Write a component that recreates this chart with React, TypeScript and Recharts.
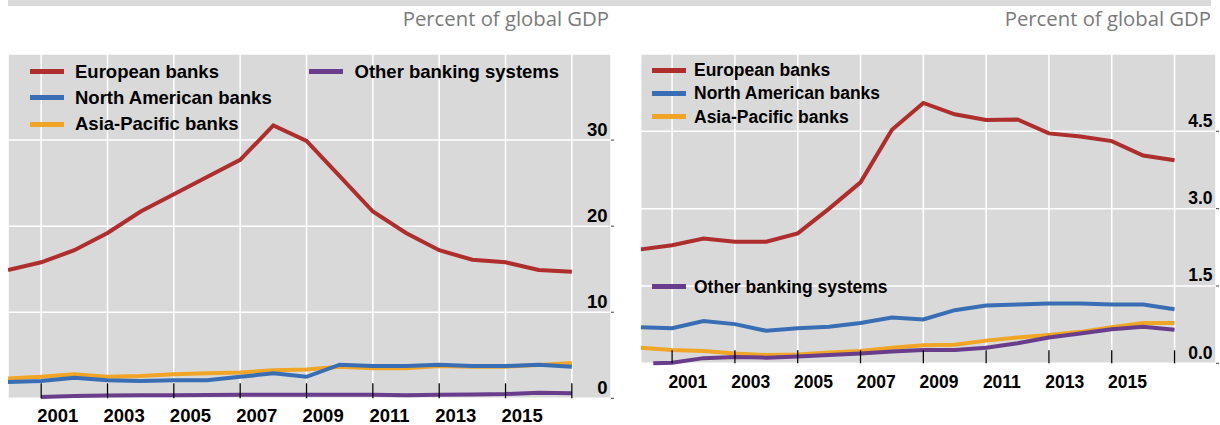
import React from "react";
import { LineChart, Line, XAxis, YAxis, CartesianGrid } from "recharts";

// ---------- data ----------
const years = [2000, 2001, 2002, 2003, 2004, 2005, 2006, 2007, 2008, 2009, 2010, 2011, 2012, 2013, 2014, 2015, 2016, 2017];
const xTicks = [2001, 2003, 2005, 2007, 2009, 2011, 2013, 2015, 2017];
const xTickLabels = ["2001", "2003", "2005", "2007", "2009", "2011", "2013", "2015"];

const seriesNames = ["European banks", "North American banks", "Asia-Pacific banks", "Other banking systems"];

// Left panel (percent of global GDP)
const leftEuropean = [14.9, 15.8, 17.2, 19.2, 21.7, 23.7, 25.7, 27.7, 31.7, 29.9, 25.8, 21.7, 19.2, 17.2, 16.1, 15.8, 14.9, 14.7];
const leftNorthAmerican = [1.9, 2.0, 2.4, 2.1, 2.0, 2.1, 2.1, 2.5, 2.9, 2.5, 3.9, 3.75, 3.75, 3.9, 3.75, 3.75, 3.9, 3.67];
const leftAsiaPacific = [2.3, 2.5, 2.8, 2.5, 2.6, 2.8, 2.9, 3.0, 3.25, 3.35, 3.67, 3.5, 3.5, 3.75, 3.67, 3.67, 3.86, 4.1];
const leftOther = [null, 0.15, 0.27, 0.33, 0.35, 0.35, 0.38, 0.42, 0.42, 0.42, 0.42, 0.42, 0.36, 0.42, 0.45, 0.5, 0.65, 0.58];
const leftYTicks = [0, 10, 20, 30];
const leftYTickLabels = ["0", "10", "20", "30"];

// Right panel (percent of global GDP)
const rightEuropean = [2.21, 2.29, 2.42, 2.36, 2.36, 2.52, 3.0, 3.51, 4.53, 5.05, 4.83, 4.72, 4.73, 4.46, 4.4, 4.31, 4.03, 3.94];
const rightNorthAmerican = [0.7, 0.68, 0.82, 0.76, 0.63, 0.68, 0.71, 0.78, 0.89, 0.85, 1.03, 1.12, 1.14, 1.16, 1.16, 1.14, 1.14, 1.05];
const rightAsiaPacific = [0.3, 0.26, 0.24, 0.19, 0.16, 0.17, 0.21, 0.24, 0.3, 0.35, 0.36, 0.44, 0.5, 0.55, 0.61, 0.7, 0.78, 0.78];
const rightOther = [null, 0.01, 0.1, 0.12, 0.11, 0.13, 0.16, 0.19, 0.23, 0.26, 0.26, 0.3, 0.39, 0.5, 0.58, 0.66, 0.71, 0.65];
const rightOtherStart = { year: 2000.4, value: 0.0 };
const rightYTicks = [0, 1.5, 3, 4.5];
const rightYTickLabels = ["0.0", "1.5", "3.0", "4.5"];

const unitLabel = "Percent of global GDP";

// ---------- styles ----------
const COLORS = ["#ae2d2d", "#3a6eb4", "#f0a526", "#693c8c"];
const DRAW_ORDER = [0, 2, 1, 3];
const FONT = "'Liberation Sans', Arial, sans-serif";
const GRID_BG = "#d9d9d9";

type Pt = { year: number; value: number };

function toPoints(vals: (number | null)[], start?: Pt): Pt[] {
  const pts: Pt[] = [];
  if (start) pts.push(start);
  vals.forEach((v, i) => {
    if (v !== null && v !== undefined) pts.push({ year: years[i], value: v });
  });
  return pts;
}

function makeXTick(halfYearPx: number, tickLen: number, labelDy: number, fontSize: number) {
  return (props: any) => {
    const { x, y, index } = props;
    const label = xTickLabels[index];
    return (
      <g>
        <line x1={x} x2={x} y1={y} y2={y - tickLen} stroke="#000" strokeWidth={1.3} />
        {label ? (
          <text x={x + halfYearPx} y={y + labelDy} textAnchor="middle" fontFamily={FONT} fontWeight="bold" fontSize={fontSize} fill="#000">
            {label}
          </text>
        ) : null}
      </g>
    );
  };
}

function makeYTick(labels: string[], fontSize: number) {
  return (props: any) => {
    const { x, y, index } = props;
    return (
      <g>
        <line x1={x} x2={x + 3} y1={y} y2={y} stroke="#444" strokeWidth={1} />
        <text x={x - 3.5} y={y - 4.5} textAnchor="end" fontFamily={FONT} fontWeight="bold" fontSize={fontSize} fill="#000">
          {labels[index]}
        </text>
      </g>
    );
  };
}

type PanelProps = {
  left: number;
  width: number;
  margin: { top: number; right: number; bottom: number; left: number };
  xAxisHeight: number;
  xDomain: [number, number];
  yDomain: [number, number];
  yTicks: number[];
  yLabels: string[];
  series: Pt[][];
  halfYearPx: number;
  tickLen: number;
  labelDy: number;
  fontSize: number;
};

function Panel(p: PanelProps) {
  return (
    <div style={{ position: "absolute", left: p.left, top: 0 }}>
      <LineChart width={p.width} height={425} margin={p.margin}>
        <CartesianGrid fill={GRID_BG} stroke="#ffffff" strokeWidth={1.5} horizontal={true} vertical={true} />
        <XAxis
          dataKey="year"
          type="number"
          domain={p.xDomain}
          allowDataOverflow
          ticks={xTicks}
          interval={0}
          height={p.xAxisHeight}
          axisLine={false}
          tickLine={false}
          tickSize={0}
          tickMargin={0}
          tick={makeXTick(p.halfYearPx, p.tickLen, p.labelDy, p.fontSize)}
        />
        <YAxis
          orientation="right"
          type="number"
          domain={p.yDomain}
          ticks={p.yTicks}
          interval={0}
          width={4}
          axisLine={false}
          tickLine={false}
          tickSize={0}
          tickMargin={0}
          tick={makeYTick(p.yLabels, p.fontSize)}
        />
        {DRAW_ORDER.map((si) => (
          <Line
            key={si}
            data={p.series[si]}
            dataKey="value"
            name={seriesNames[si]}
            type="linear"
            stroke={COLORS[si]}
            strokeWidth={4}
            dot={false}
            activeDot={false}
            isAnimationActive={false}
          />
        ))}
      </LineChart>
    </div>
  );
}

function LegendItem({ x, y, idx, fontSize, textX }: { x: number; y: number; idx: number; fontSize: number; textX: number }) {
  return (
    <>
      <div style={{ position: "absolute", left: x, top: y - 2.5, width: 34, height: 5, background: COLORS[idx] }} />
      <div
        style={{
          position: "absolute",
          left: textX,
          top: y - 12,
          height: 24,
          lineHeight: "24px",
          fontFamily: FONT,
          fontWeight: "bold",
          fontSize,
          color: "#000",
          whiteSpace: "nowrap",
        }}
      >
        {seriesNames[idx]}
      </div>
    </>
  );
}

export default function App() {
  const leftSeries = [
    toPoints(leftEuropean),
    toPoints(leftNorthAmerican),
    toPoints(leftAsiaPacific),
    toPoints(leftOther),
  ];
  const rightSeries = [
    toPoints(rightEuropean),
    toPoints(rightNorthAmerican),
    toPoints(rightAsiaPacific),
    toPoints(rightOther, rightOtherStart),
  ];

  return (
    <div style={{ position: "absolute", left: 0, top: 0, width: 1220, height: 425, background: "#fff", overflow: "hidden" }}>
      <svg width={1220} height={425} style={{ position: "absolute", left: 0, top: 0 }}>
        <rect x={8} y={0} width={1203} height={6} fill="#d9d9d9" />
        <text x={609} y={26} textAnchor="end" fontFamily="'Open Sans', sans-serif" fontSize={20.3} fill="#7a7a7a">
          {unitLabel}
        </text>
        <text x={1211} y={26} textAnchor="end" fontFamily="'Open Sans', sans-serif" fontSize={20.3} fill="#7a7a7a">
          {unitLabel}
        </text>
      </svg>

      <Panel
        left={0}
        width={620}
        margin={{ top: 54, right: 5, bottom: 0, left: 8 }}
        xAxisHeight={26.7}
        xDomain={[2000, 2018.18]}
        yDomain={[0, 40]}
        yTicks={leftYTicks}
        yLabels={leftYTickLabels}
        series={leftSeries}
        halfYearPx={16.6}
        tickLen={15}
        labelDy={24}
        fontSize={18.5}
      />
      <Panel
        left={620}
        width={600}
        margin={{ top: 54, right: 0, bottom: 0, left: 20.7 }}
        xAxisHeight={61.7}
        xDomain={[2000, 2018.32]}
        yDomain={[0, 6]}
        yTicks={rightYTicks}
        yLabels={rightYTickLabels}
        series={rightSeries}
        halfYearPx={15.75}
        tickLen={13}
        labelDy={24.5}
        fontSize={17.5}
      />

      {/* legends */}
      <LegendItem x={30} y={71.7} idx={0} fontSize={18.5} textX={75} />
      <LegendItem x={30} y={97.5} idx={1} fontSize={18.5} textX={75} />
      <LegendItem x={30} y={124} idx={2} fontSize={18.5} textX={75} />
      <LegendItem x={309} y={71.7} idx={3} fontSize={18.5} textX={354.5} />

      <LegendItem x={652} y={70} idx={0} fontSize={17.5} textX={694} />
      <LegendItem x={652} y={93.3} idx={1} fontSize={17.5} textX={694} />
      <LegendItem x={652} y={116.7} idx={2} fontSize={17.5} textX={694} />
      <LegendItem x={652} y={286.7} idx={3} fontSize={17.5} textX={694} />
    </div>
  );
}
